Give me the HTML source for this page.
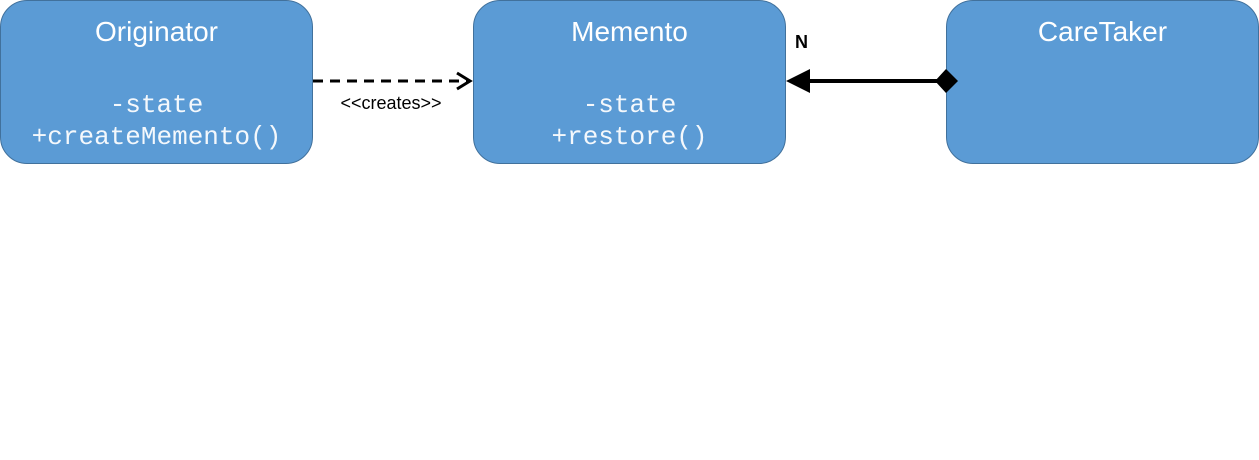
<!DOCTYPE html>
<html><head><style>
body{margin:0;width:1259px;height:460px;background:#fff;position:relative;overflow:hidden}
.b{position:absolute;top:0;width:311px;height:162px;background:#5B9BD5;border:1px solid #41719C;border-radius:27px;color:#fff;text-align:center}
.t{position:absolute;top:14px;left:0;right:0;font:28px "Liberation Sans",sans-serif;line-height:34px}
.m{position:absolute;left:0;right:0;font:26px "Liberation Mono",monospace;line-height:32px;top:88px;color:#f4f8fc}
</style></head><body>
<div class="b" style="left:0"><div class="t">Originator</div><div class="m">-state<br>+createMemento()</div></div>
<div class="b" style="left:473px"><div class="t">Memento</div><div class="m">-state<br>+restore()</div></div>
<div class="b" style="left:946px"><div class="t">CareTaker</div></div>
<svg width="1259" height="460" style="position:absolute;left:0;top:0">
<line x1="313" y1="81" x2="468" y2="81" stroke="#000" stroke-width="3" stroke-dasharray="10,7"/>
<polyline points="457,73 470,81 457,89" fill="none" stroke="#000" stroke-width="3"/>
<text x="391" y="109" font-family="Liberation Sans,sans-serif" font-size="18" text-anchor="middle">&lt;&lt;creates&gt;&gt;</text>
<line x1="805" y1="81" x2="940" y2="81" stroke="#000" stroke-width="4"/>
<polygon points="786,81 810,69 810,93" fill="#000"/>
<polygon points="935,81 946,69 958,81 946,93" fill="#000"/>
<text x="795" y="48" font-family="Liberation Sans,sans-serif" font-size="18" font-weight="bold">N</text>
</svg>
</body></html>
